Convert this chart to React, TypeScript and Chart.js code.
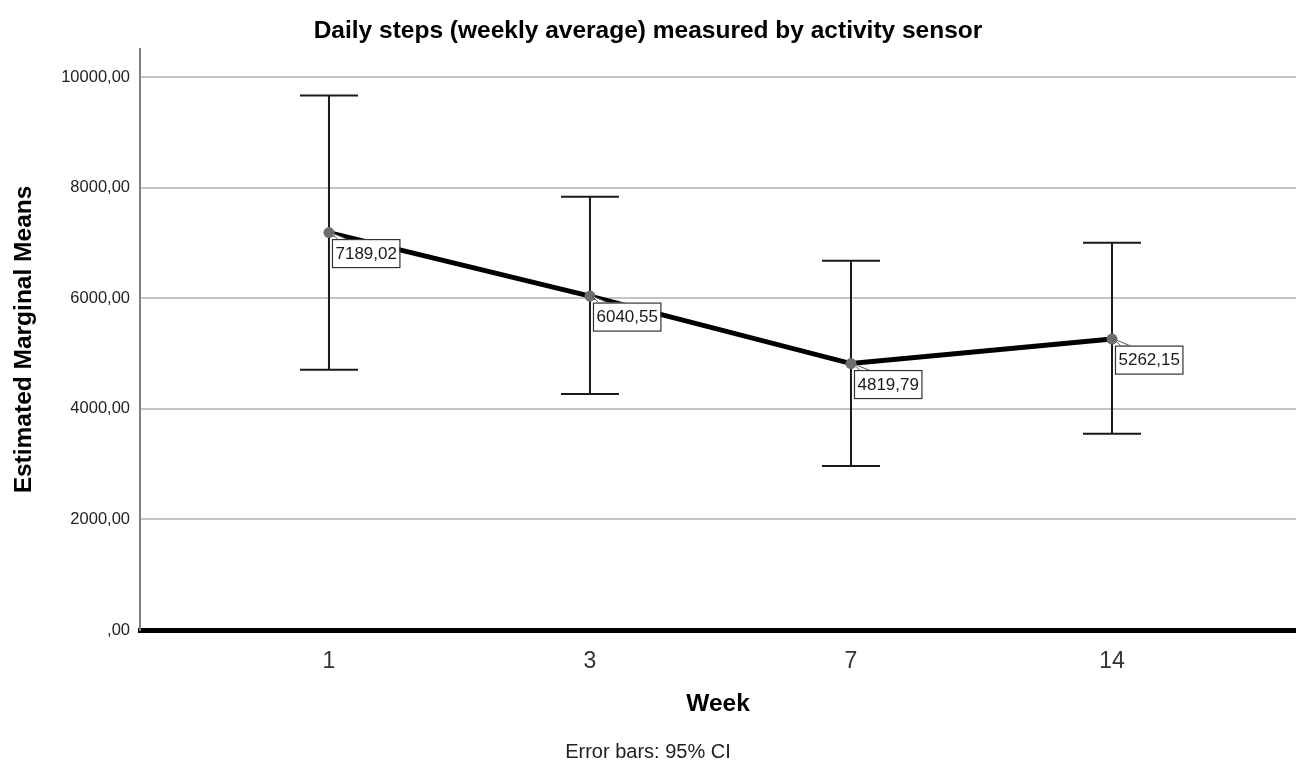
import React, { useEffect, useRef } from 'react';
import { Chart, registerables } from 'chart.js';

Chart.register(...registerables);

const weeks = ['1', '3', '7', '14'];
const means = [7189.02, 6040.55, 4819.79, 5262.15];
const ciLower = [4706, 4271, 2968, 3548];
const ciUpper = [9671, 7837, 6679, 7005];
const meanLabels = ['7189,02', '6040,55', '4819,79', '5262,15'];
const yTicks = [0, 2000, 4000, 6000, 8000, 10000];

const FONT = '"Liberation Sans", Arial, sans-serif';

const overlay = {
  id: 'overlay',
  beforeDatasetsDraw(chart: any) {
    const { ctx, scales } = chart;
    const x = scales.x;
    const y = scales.y;
    ctx.save();
    ctx.strokeStyle = '#1a1a1a';
    ctx.lineWidth = 2;
    means.forEach((_, i) => {
      const px = x.getPixelForValue(i);
      const top = y.getPixelForValue(ciUpper[i]);
      const bot = y.getPixelForValue(ciLower[i]);
      ctx.beginPath();
      ctx.moveTo(px, top);
      ctx.lineTo(px, bot);
      ctx.moveTo(px - 29, top);
      ctx.lineTo(px + 29, top);
      ctx.moveTo(px - 29, bot);
      ctx.lineTo(px + 29, bot);
      ctx.stroke();
    });
    ctx.restore();
  },
  afterDatasetsDraw(chart: any) {
    const { ctx, scales } = chart;
    const x = scales.x;
    const y = scales.y;
    ctx.save();
    ctx.font = `17px ${FONT}`;
    means.forEach((v, i) => {
      const px = x.getPixelForValue(i);
      const py = y.getPixelForValue(v);
      const text = meanLabels[i];
      const tw = ctx.measureText(text).width;
      const bw = tw + 6;
      const bh = 28;
      const bx = px + 3;
      const by = py + 6.5;
      // callout tail
      ctx.beginPath();
      ctx.moveTo(px + 2, py);
      ctx.lineTo(px + 19, by + 0.5);
      ctx.lineTo(px + 9, by + 0.5);
      ctx.closePath();
      ctx.fillStyle = '#ffffff';
      ctx.fill();
      ctx.strokeStyle = '#555';
      ctx.lineWidth = 1;
      ctx.stroke();
      // box
      ctx.fillStyle = '#ffffff';
      ctx.fillRect(bx, by, bw, bh);
      ctx.strokeStyle = '#333';
      ctx.lineWidth = 1.2;
      ctx.strokeRect(bx + 0.5, by + 0.5, bw, bh);
      ctx.fillStyle = '#1a1a1a';
      ctx.textAlign = 'center';
      ctx.textBaseline = 'middle';
      ctx.fillText(text, bx + bw / 2 + 0.5, by + bh / 2 + 1);
    });
    ctx.restore();
  },
};

export default function App() {
  const ref = useRef<HTMLCanvasElement | null>(null);

  useEffect(() => {
    if (!ref.current) return;
    const chart = new Chart(ref.current, {
      type: 'line',
      data: {
        datasets: [
          {
            data: means.map((m, i) => ({ x: i, y: m })),
            borderColor: '#000000',
            borderWidth: 5,
            pointRadius: 5.5,
            pointBackgroundColor: '#6e6e6e',
            pointBorderWidth: 0,
            pointHoverRadius: 5.5,
            fill: false,
            tension: 0,
            clip: false,
          },
        ],
      },
      options: {
        responsive: false,
        animation: false,
        devicePixelRatio: 1,
        layout: { padding: 0, autoPadding: false },
        plugins: {
          legend: { display: false },
          tooltip: { enabled: false },
          title: {
            display: true,
            text: 'Daily steps (weekly average) measured by activity sensor',
            color: '#000',
            font: { family: FONT, size: 24.5, weight: 'bold' },
            padding: { top: 16.8, bottom: 2.8 },
          },
          subtitle: {
            display: true,
            position: 'bottom',
            text: 'Error bars: 95% CI',
            color: '#222',
            font: { family: FONT, size: 20, weight: 'normal' },
            padding: { top: 0, bottom: -2 },
          },
        },
        scales: {
          x: {
            type: 'linear',
            min: -0.724,
            max: 3.705,
            afterBuildTicks: (s: any) => {
              s.ticks = weeks.map((_, i) => ({ value: i }));
            },
            afterFit: (s: any) => {
              s.height = 110;
              s.paddingLeft = 0;
              s.paddingRight = 0;
            },
            grid: { display: false },
            border: { display: true, color: '#000', width: 5 },
            ticks: {
              color: '#333',
              font: { family: FONT, size: 23 },
              padding: 10,
              callback: (v: any) => weeks[v] ?? '',
            },
            title: {
              display: true,
              text: 'Week',
              color: '#000',
              font: { family: FONT, size: 24.5, weight: 'bold' },
              padding: { top: 0, bottom: 21.3 },
            },
          },
          y: {
            type: 'linear',
            min: 0,
            max: 10510,
            afterBuildTicks: (s: any) => {
              s.ticks = yTicks.map((v) => ({ value: v }));
            },
            afterFit: (s: any) => {
              s.width = 140;
              s.paddingTop = 0;
              s.paddingBottom = 0;
            },
            grid: { color: '#c4c4c4', lineWidth: 2, drawTicks: false },
            border: { display: true, color: '#808080', width: 2 },
            ticks: {
              color: '#222',
              font: { family: FONT, size: 16.5 },
              padding: 10,
              callback: (v: any) => (v === 0 ? ',00' : `${v},00`),
            },
            title: {
              display: true,
              text: 'Estimated Marginal Means',
              color: '#000',
              font: { family: FONT, size: 24.5, weight: 'bold' },
              padding: { top: 9.3, bottom: 0 },
            },
          },
        },
      } as any,
      plugins: [overlay],
    });
    return () => chart.destroy();
  }, []);

  return (
    <div>
      <canvas
        ref={ref}
        width={1296}
        height={762}
        style={{ position: 'absolute', left: 0, top: 0, width: 1296, height: 762 }}
      />
    </div>
  );
}
